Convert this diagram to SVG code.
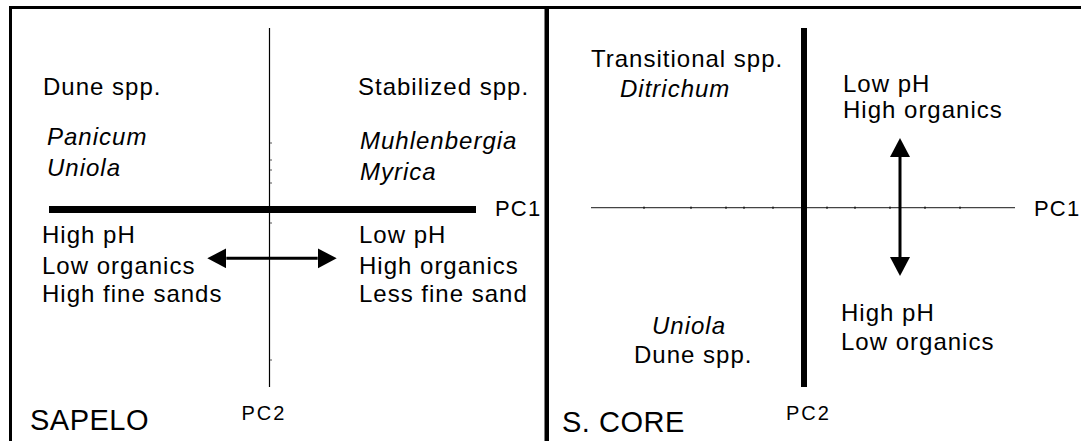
<svg xmlns="http://www.w3.org/2000/svg" width="1081" height="441" viewBox="0 0 1081 441">
<style>
  text { font-family: "Liberation Sans", Arial, sans-serif; fill: #000; }
  .t { font-size: 24px; letter-spacing: 1px; }
  .i { font-style: italic; }
  .pc { font-size: 20px; letter-spacing: 2px; }
  .pc1 { font-size: 22px; letter-spacing: 1.2px; }
  .site { font-size: 29px; letter-spacing: 0.5px; }
  .arrow { stroke: #000; stroke-width: 3; fill: none; }
</style>
<defs>
  <marker id="head" markerUnits="userSpaceOnUse" markerWidth="20" markerHeight="21" refX="0" refY="10" orient="auto-start-reverse" viewBox="0 0 20 21">
    <path d="M0,0 L19,10 L0,20 z" fill="#000"/>
  </marker>
</defs>
<rect width="1081" height="441" fill="#fff"/>
<g id="frame" fill="#000">
  <rect x="9" y="6" width="1072" height="3"/>
  <rect x="9" y="6" width="3" height="435"/>
  <rect x="544.5" y="6" width="4.5" height="435"/>
</g>
<g id="sapelo-axes">
  <line x1="269.5" y1="28" x2="269.5" y2="387" stroke="#000" stroke-width="1.2"/>
  <rect x="49" y="206" width="427" height="7" fill="#000"/>
  <path d="M270 143h2M270 160h2M270 170h2M270 183h2M270 223h2M270 360h2" stroke="#555" stroke-width="1"/>
</g>
<g id="score-axes">
  <line x1="591" y1="207.7" x2="1015" y2="207.7" stroke="#444" stroke-width="1.3"/>
  <path d="M644 206.5v2.5M691 206.5v2.5M726 206.5v2.5M744 206.5v2.5M773 206.5v2.5M827 206.5v2.5M855 206.5v2.5M890 206.5v2.5M925 206.5v2.5M960 206.5v2.5" stroke="#000" stroke-width="1"/>
  <rect x="801" y="28" width="6" height="359" fill="#000"/>
</g>
<g id="connectors">
  <line class="arrow" x1="226.3" y1="258.3" x2="317.7" y2="258.3" marker-start="url(#head)" marker-end="url(#head)"/>
  <line class="arrow" x1="900" y1="157" x2="900" y2="257" marker-start="url(#head)" marker-end="url(#head)"/>
</g>
<g id="sapelo-labels">
  <text class="t" x="43" y="94.5">Dune spp.</text>
  <text class="t" x="358" y="94.5">Stabilized spp.</text>
  <text class="t i" x="47" y="145">Panicum</text>
  <text class="t i" x="47" y="176">Uniola</text>
  <text class="t i" x="360" y="148.5">Muhlenbergia</text>
  <text class="t i" x="360" y="180">Myrica</text>
  <text class="pc1" x="495" y="216">PC1</text>
  <text class="t" x="42" y="243">High pH</text>
  <text class="t" x="42" y="273.5">Low organics</text>
  <text class="t" x="42" y="302">High fine sands</text>
  <text class="t" x="359" y="243">Low pH</text>
  <text class="t" x="359" y="273.5">High organics</text>
  <text class="t" x="359" y="302">Less fine sand</text>
  <text class="pc" x="241.5" y="420">PC2</text>
  <text class="site" x="30" y="430">SAPELO</text>
</g>
<g id="score-labels">
  <text class="t" x="591" y="67">Transitional spp.</text>
  <text class="t i" x="620" y="97">Ditrichum</text>
  <text class="t" x="843" y="92">Low pH</text>
  <text class="t" x="843" y="118">High organics</text>
  <text class="pc1" x="1034" y="216">PC1</text>
  <text class="t i" x="652" y="334">Uniola</text>
  <text class="t" x="634" y="363">Dune spp.</text>
  <text class="t" x="841" y="321">High pH</text>
  <text class="t" x="841" y="350">Low organics</text>
  <text class="pc" x="786" y="420">PC2</text>
  <text class="site" x="562" y="432">S. CORE</text>
</g>
</svg>
